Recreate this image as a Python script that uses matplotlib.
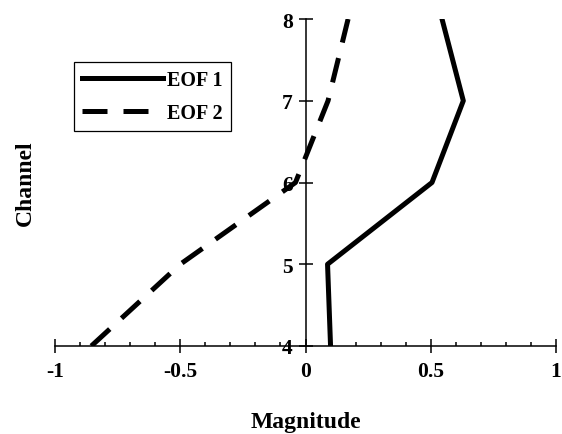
#!/usr/bin/env python3
import matplotlib
matplotlib.use('agg')
import matplotlib.pyplot as plt
from matplotlib.ticker import MultipleLocator

channels = [4, 5, 6, 7, 8]
eof1 = [0.10, 0.088, 0.505, 0.63, 0.545]
eof2 = [-0.855, -0.50, -0.04, 0.09, 0.17]

plt.rcParams['font.family'] = ['Liberation Serif', 'DejaVu Serif']
plt.rcParams['font.weight'] = 'bold'
plt.rcParams['font.size'] = 14

fig = plt.figure(figsize=(5.62, 4.35), dpi=100)
ax = fig.add_axes([0.0979, 0.2023, 0.8914, 0.7517])

ax.plot(eof1, channels, color='black', lw=3.6, label='EOF 1')
ax.plot(eof2, channels, color='black', lw=3.6, dashes=(5, 3.2), label='EOF 2')

ax.set_xlim(-1, 1)
ax.set_ylim(4, 8)

# axes cross at x = 0, only two spines
ax.spines['left'].set_position(('data', 0))
ax.spines['top'].set_visible(False)
ax.spines['right'].set_visible(False)
for s in ('left', 'bottom'):
    ax.spines[s].set_linewidth(1.1)

ax.xaxis.set_major_locator(MultipleLocator(0.5))
ax.xaxis.set_minor_locator(MultipleLocator(0.1))
ax.yaxis.set_major_locator(MultipleLocator(1))
ax.set_xticks([-1, -0.5, 0, 0.5, 1])
ax.set_xticklabels(['-1', '-0.5', '0', '0.5', '1'])
ax.tick_params(axis='both', which='major', direction='inout', length=9.4,
               width=1.1, labelsize=15.5)
ax.tick_params(axis='x', which='major', pad=6)
ax.tick_params(axis='y', which='major', pad=4.5)
ax.tick_params(axis='x', which='minor', direction='in', length=3, width=1.1)
for lab in ax.get_xticklabels() + ax.get_yticklabels():
    lab.set_fontweight('bold')

fig.text(305.5 / 562, 1 - 423 / 435, 'Magnitude', ha='center', va='center',
         fontsize=17, fontweight='bold')
fig.text(25 / 562, 1 - 183 / 435, 'Channel', ha='center', va='center',
         rotation=90, fontsize=17, fontweight='bold')

leg = ax.legend(loc='upper left', bbox_to_anchor=(74 / 562, 1 - 63 / 435),
                bbox_transform=fig.transFigure, borderaxespad=0,
                fancybox=False, framealpha=1, edgecolor='black',
                handlelength=4.0, handletextpad=0.2, labelspacing=0.62,
                borderpad=0.42, prop={'weight': 'bold', 'size': 14.5})
leg.get_frame().set_linewidth(0.9)

fig.savefig('out.png', dpi=100)
